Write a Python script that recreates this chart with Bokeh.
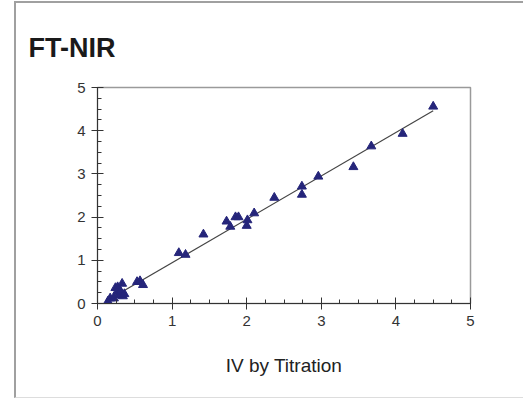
from bokeh.plotting import figure
from bokeh.models import Range1d, SingleIntervalTicker
from bokeh.embed import file_html
from bokeh.resources import INLINE

iv_titration = [0.14, 0.17, 0.22, 0.24, 0.27, 0.26, 0.29, 0.31, 0.33, 0.34, 0.36,
                0.53, 0.57, 0.61, 1.09, 1.18, 1.42, 1.73, 1.78, 1.85, 1.89,
                2.00, 2.01, 2.10, 2.37, 2.74, 2.74, 2.96, 3.43, 3.67, 4.09, 4.50]
ft_nir = [0.05, 0.12, 0.12, 0.36, 0.38, 0.27, 0.19, 0.28, 0.46, 0.17, 0.22,
          0.50, 0.52, 0.43, 1.17, 1.13, 1.60, 1.90, 1.78, 2.00, 2.00,
          1.80, 1.93, 2.09, 2.45, 2.71, 2.52, 2.94, 3.16, 3.64, 3.93, 4.56]
fit_x = [0.14, 4.50]
fit_y = [0.08, 4.46]

W, H = 507, 394
p = figure(width=W, height=H, output_backend="svg", toolbar_location=None,
           x_range=Range1d(0, 5), y_range=Range1d(0, 5),
           min_border_left=81, min_border_right=W - 452, min_border_top=84,
           min_border_bottom=H - 297)
p.styles = {"margin-left": "14px", "margin-top": "1px",
            "border-left": "2px solid #a0a0a0", "border-top": "2px solid #a0a0a0",
            "border-bottom": "1px solid #dddddd", "box-sizing": "content-box"}
p.grid.visible = False
p.outline_line_color = "#9a9a9a"
p.outline_line_width = 1.5
p.background_fill_color = "white"
p.border_fill_color = "white"

p.title.text = "FT-NIR"
p.title.align = "left"
p.title.offset = -69
p.title.text_font = "Liberation Sans"
p.title.text_font_size = "27px"
p.title.text_font_style = "bold"
p.title.text_color = "#1a1a1a"
p.title.standoff = 49

for ax in (p.xaxis[0], p.yaxis[0]):
    ax.ticker = SingleIntervalTicker(interval=1, num_minor_ticks=4)
    ax.axis_line_color = "#333333"
    ax.major_tick_line_color = "#333333"
    ax.minor_tick_line_color = "#333333"
    ax.major_tick_in = 6
    ax.major_tick_out = 6
    ax.minor_tick_in = 4
    ax.minor_tick_out = 0
    ax.major_label_text_font = "Liberation Sans"
    ax.major_label_text_font_size = "15px"
    ax.major_label_text_color = "#333333"

p.xaxis.axis_label = "IV by Titration"
p.xaxis.axis_label_text_font = "Liberation Sans"
p.xaxis.axis_label_text_font_size = "19px"
p.xaxis.axis_label_text_font_style = "normal"
p.xaxis.axis_label_text_color = "#222222"
p.xaxis.axis_label_standoff = 26
p.xaxis.major_label_standoff = 6
p.yaxis.major_label_standoff = 6

p.line(fit_x, fit_y, line_color="#444444", line_width=1.2)
p.scatter(iv_titration, ft_nir, marker="triangle", size=9,
          fill_color="#25257a", line_color="#25257a")

open("out.html", "w").write(file_html(p, INLINE))
